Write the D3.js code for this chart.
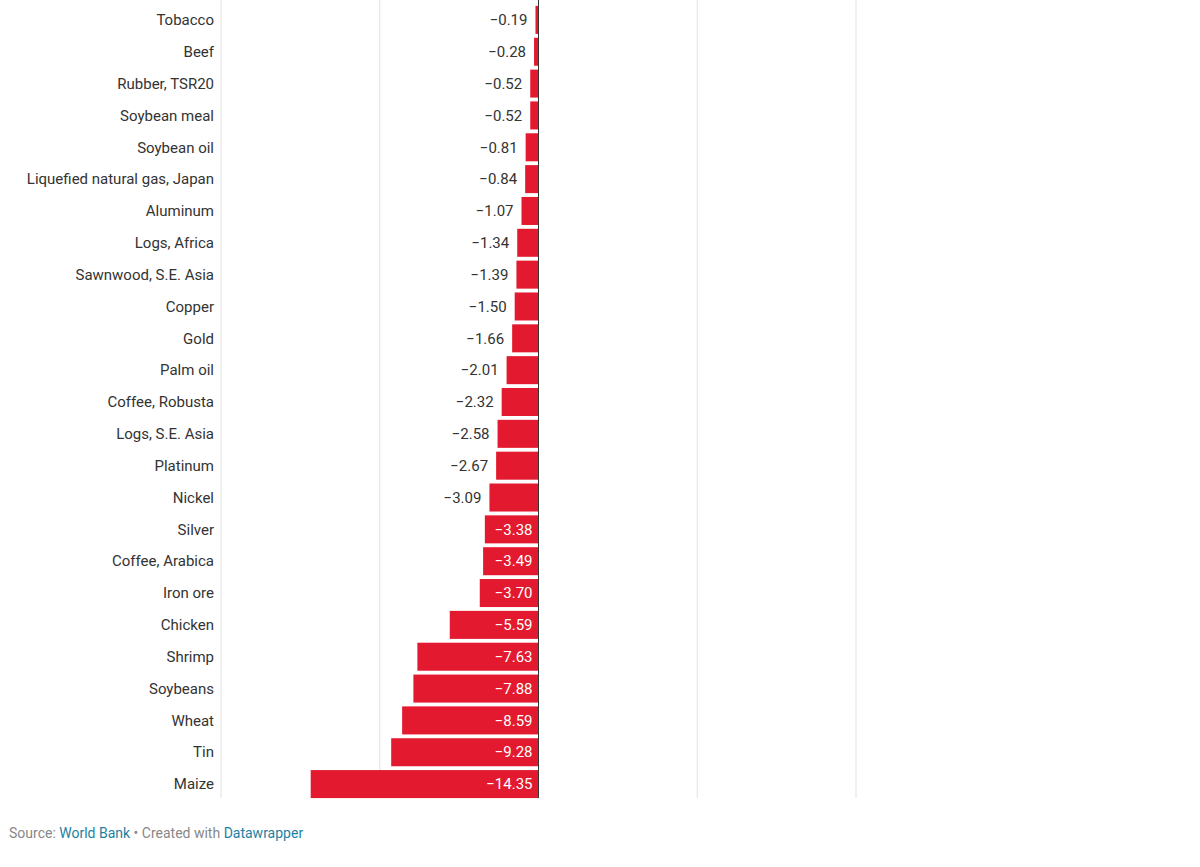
<!DOCTYPE html>
<html><head><meta charset="utf-8">
<script src="https://cdn.jsdelivr.net/npm/d3@7"></script>
<style>body{margin:0;background:#fff;font-family:Roboto,sans-serif}</style>
</head><body><svg id="chart" width="1200" height="867"></svg>
<script>
const commodities = ['Tobacco','Beef','Rubber, TSR20','Soybean meal','Soybean oil','Liquefied natural gas, Japan','Aluminum','Logs, Africa','Sawnwood, S.E. Asia','Copper','Gold','Palm oil','Coffee, Robusta','Logs, S.E. Asia','Platinum','Nickel','Silver','Coffee, Arabica','Iron ore','Chicken','Shrimp','Soybeans','Wheat','Tin','Maize'];
const changes = [-0.19,-0.28,-0.52,-0.52,-0.81,-0.84,-1.07,-1.34,-1.39,-1.50,-1.66,-2.01,-2.32,-2.58,-2.67,-3.09,-3.38,-3.49,-3.70,-5.59,-7.63,-7.88,-8.59,-9.28,-14.35];
const gridTicks = [-20,-10,0,10,20];

const svg = d3.select('#chart');
const x = d3.scaleLinear().domain([-20,20]).range([221,856]);
const y = d3.scaleBand().domain(commodities).range([4,800]).paddingInner(0.12).paddingOuter(0.06);
const fmt = v => d3.format('.2f')(v).replace('-', '\u2212');

svg.append('g').selectAll('line').data(gridTicks.filter(t => t !== 0)).join('line')
  .attr('x1', d => x(d)).attr('x2', d => x(d)).attr('y1', 0).attr('y2', 798)
  .attr('stroke', '#e2e2e2');

svg.append('g').selectAll('rect').data(changes).join('rect')
  .attr('x', d => x(d)).attr('width', d => x(0) - x(d))
  .attr('y', (d, i) => y(commodities[i])).attr('height', y.bandwidth())
  .attr('fill', '#e31a2f');

svg.append('line').attr('x1', x(0)).attr('x2', x(0)).attr('y1', 0).attr('y2', 798)
  .attr('stroke', '#333').attr('stroke-width', 1);

svg.append('g').selectAll('text').data(commodities).join('text')
  .attr('x', 214).attr('y', d => y(d) + y.bandwidth() / 2).attr('dy', '0.35em')
  .attr('text-anchor', 'end').attr('font-size', 15).attr('fill', '#333').text(d => d);

svg.append('g').selectAll('text').data(changes).join('text')
  .attr('x', d => d <= -3.3 ? x(0) - 6 : x(d) - 8)
  .attr('y', (d, i) => y(commodities[i]) + y.bandwidth() / 2).attr('dy', '0.35em')
  .attr('text-anchor', 'end').attr('font-size', 15)
  .attr('fill', d => d <= -3.3 ? '#fff' : '#333').text(fmt);

const src = svg.append('text').attr('x', 9).attr('y', 838).attr('font-size', 14).attr('fill', '#888');
src.append('tspan').text('Source: ');
src.append('tspan').attr('fill', '#1d81a2').text('World Bank');
src.append('tspan').text(' \u2022 Created with ');
src.append('tspan').attr('fill', '#1d81a2').text('Datawrapper');
</script></body></html>
